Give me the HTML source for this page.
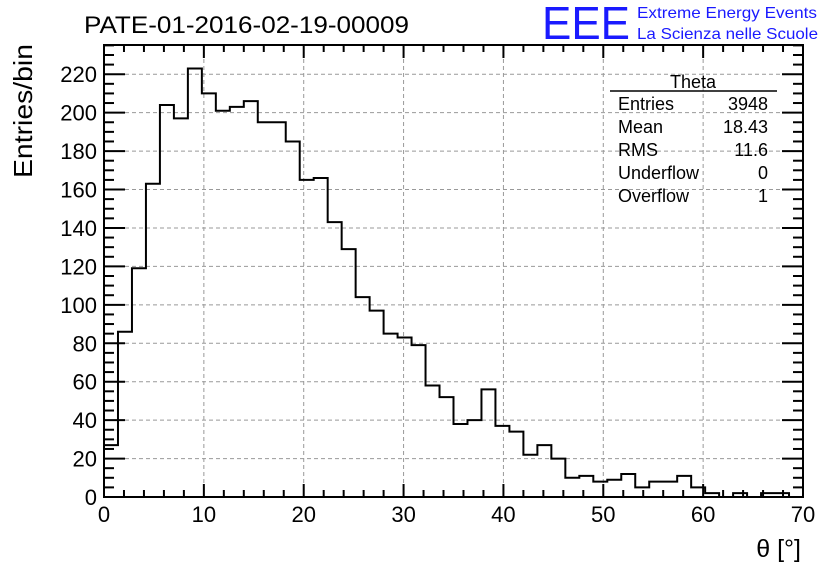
<!DOCTYPE html>
<html><head><meta charset="utf-8"><style>
body{margin:0;background:#fff;}
svg{display:block;font-family:"Liberation Sans",sans-serif;}
</style></head><body>
<svg id="c" width="836" height="572">
<text x="84" y="33" font-size="24" textLength="325" lengthAdjust="spacingAndGlyphs">PATE-01-2016-02-19-00009</text>
<text x="542" y="39" font-size="46" fill="#1a1aff" textLength="88" lengthAdjust="spacingAndGlyphs">EEE</text>
<text x="637" y="18" font-size="16" fill="#1a1aff" textLength="180" lengthAdjust="spacingAndGlyphs">Extreme Energy Events</text>
<text x="637" y="39" font-size="16" fill="#1a1aff" textLength="181" lengthAdjust="spacingAndGlyphs">La Scienza nelle Scuole</text>
<text transform="translate(32,111) rotate(-90)" font-size="26" text-anchor="middle" textLength="134" lengthAdjust="spacingAndGlyphs">Entries/bin</text>
<text x="801" y="557" font-size="25" text-anchor="end">θ [°]</text>
<g id="grid"></g><g id="ticks"></g><g id="hist"></g>
<rect x="104" y="45" width="699" height="452" fill="none" stroke="#000" stroke-width="2"/>
<g font-size="18">
<text x="693" y="88" text-anchor="middle">Theta</text>
<line x1="610" y1="91" x2="777" y2="91" stroke="#000" stroke-width="1.5"/>
<text x="618" y="110">Entries</text><text x="768" y="110" text-anchor="end">3948</text>
<text x="618" y="133">Mean</text><text x="768" y="133" text-anchor="end">18.43</text>
<text x="618" y="156">RMS</text><text x="768" y="156" text-anchor="end">11.6</text>
<text x="618" y="179">Underflow</text><text x="768" y="179" text-anchor="end">0</text>
<text x="618" y="202">Overflow</text><text x="768" y="202" text-anchor="end">1</text>
</g>
</svg>
<script>
const counts=[27,86,119,163,204,197,223,210,201,203,206,195,195,185,165,166,143,129,104,97,85,83,79,58,52,38,40,56,37,34,22,27,20,10,11,8,9,12,5,8,8,11,5,2,0,2,0,2,2,0];
const xTicks=[0,10,20,30,40,50,60,70];
const yTicks=[0,20,40,60,80,100,120,140,160,180,200,220];
const binWidth=1.4, xMin=0, xMax=70, yMax=235.2;
const L=104,R=803,T=45,B=497;
const NS="http://www.w3.org/2000/svg";
function X(v){return L+(v-xMin)/(xMax-xMin)*(R-L);}
function Y(v){return B-v/yMax*(B-T);}
function mk(tag,attrs,parent){const e=document.createElementNS(NS,tag);for(const k in attrs)e.setAttribute(k,attrs[k]);parent.appendChild(e);return e;}
const grid=document.getElementById('grid'),ticks=document.getElementById('ticks'),hist=document.getElementById('hist');
xTicks.forEach(v=>{
  if(v>xMin&&v<xMax){const g=mk('line',{x1:X(v),x2:X(v),y1:T,y2:B,stroke:'#999','stroke-dasharray':'4,3'},grid);
  
  }
  const t=mk('text',{x:X(v),y:B+25,'font-size':22,'text-anchor':'middle'},ticks);t.textContent=v;
  
  
});
for(let v=xMin;v<=xMax;v+=2){const maj=v%10===0;const len=maj?13:7;
  mk('line',{x1:X(v),x2:X(v),y1:B,y2:B-len,stroke:'#000','stroke-width':2},ticks);
  mk('line',{x1:X(v),x2:X(v),y1:T,y2:T+len,stroke:'#000','stroke-width':2},ticks);}
yTicks.forEach(v=>{
  if(v>0){const g=mk('line',{x1:L,x2:R,y1:Y(v),y2:Y(v),stroke:'#999','stroke-dasharray':'4,3'},grid);
  
  }
  const t=mk('text',{x:L-7,y:Y(v)+8,'font-size':22,'text-anchor':'end'},ticks);t.textContent=v;
  
  
});
for(let v=0;v<=yMax;v+=5){const maj=v%20===0;const len=maj?21:10;
  mk('line',{x1:L,x2:L+len,y1:Y(v),y2:Y(v),stroke:'#000','stroke-width':2},ticks);
  mk('line',{x1:R,x2:R-len,y1:Y(v),y2:Y(v),stroke:'#000','stroke-width':2},ticks);}
let d='M'+X(xMin)+','+Y(0);
counts.forEach((c,i)=>{const x0=X(xMin+i*binWidth),x1=X(xMin+(i+1)*binWidth);d+=' L'+x0+','+Y(c)+' L'+x1+','+Y(c);});
d+=' L'+X(xMin+counts.length*binWidth)+','+Y(0);
const p=mk('path',{d:d,fill:'none',stroke:'#000','stroke-width':2},hist);


</script>
</body></html>
